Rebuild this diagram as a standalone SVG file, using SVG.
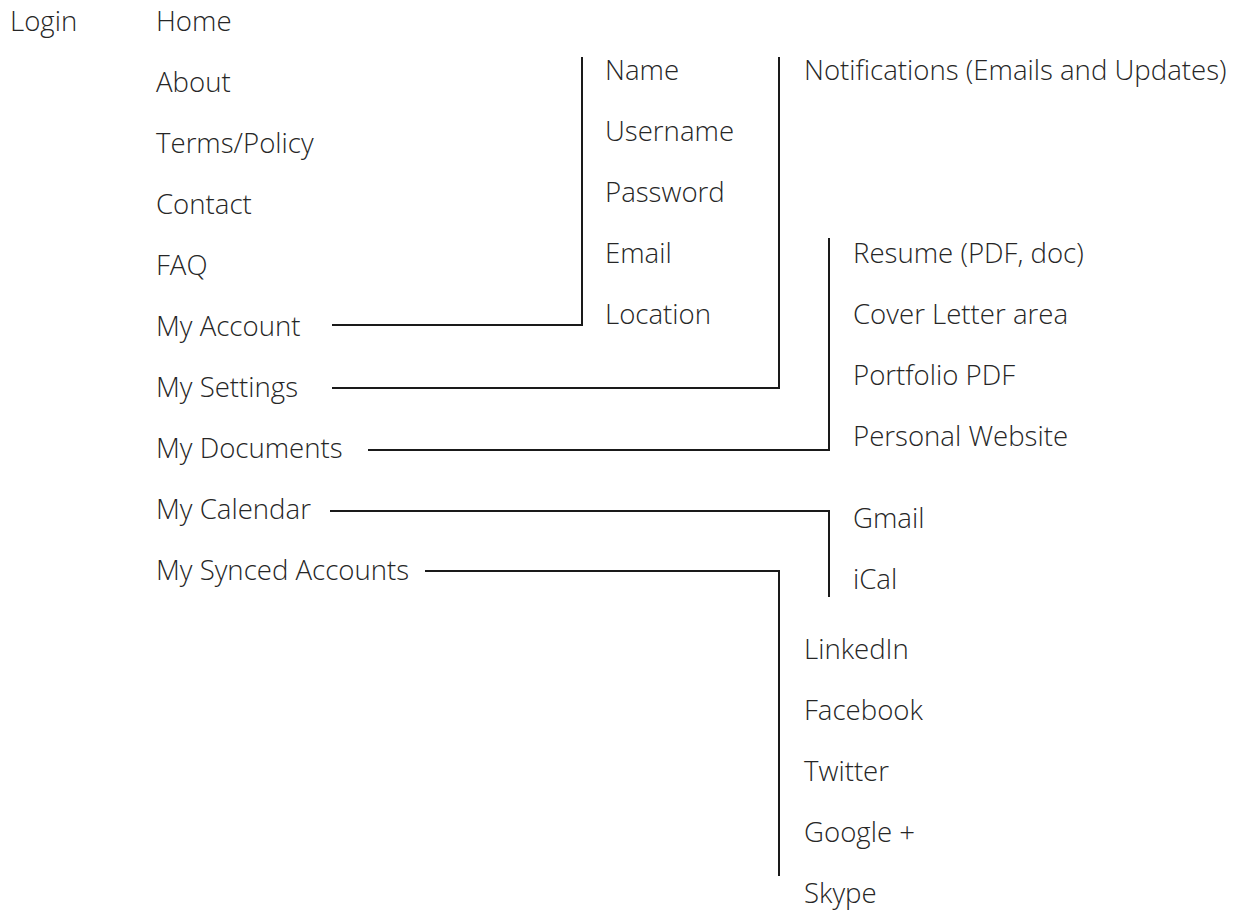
<svg xmlns="http://www.w3.org/2000/svg" width="1243" height="911" viewBox="0 0 1243 911">
<style>
text{font-family:"Open Sans","Liberation Sans",sans-serif;font-weight:300;font-size:27.6px;fill:#262626}
.c{fill:none;stroke:#1a1a1a;stroke-width:2}
</style>
<rect width="1243" height="911" fill="#fff"/>
<g id="connectors">
<polyline class="c" points="332,325 582,325 582,57"/>
<polyline class="c" points="332,388 779,388 779,57"/>
<polyline class="c" points="368,450 829,450 829,238"/>
<polyline class="c" points="330,511 829,511 829,597"/>
<polyline class="c" points="425,571 779,571 779,876"/>
</g>
<g id="login"><text x="10" y="31">Login</text></g>
<g id="main">
<text x="156" y="31">Home</text>
<text x="156" y="92">About</text>
<text x="156" y="153">Terms/Policy</text>
<text x="156" y="214">Contact</text>
<text x="156" y="275">FAQ</text>
<text x="156" y="336">My Account</text>
<text x="156" y="397">My Settings</text>
<text x="156" y="458">My Documents</text>
<text x="156" y="519">My Calendar</text>
<text x="156" y="580">My Synced Accounts</text>
</g>
<g id="account">
<text x="605" y="80">Name</text>
<text x="605" y="141">Username</text>
<text x="605" y="202">Password</text>
<text x="605" y="263">Email</text>
<text x="605" y="324">Location</text>
</g>
<g id="settings"><text x="804" y="80">Notifications (Emails and Updates)</text></g>
<g id="documents">
<text x="853" y="263">Resume (PDF, doc)</text>
<text x="853" y="324">Cover Letter area</text>
<text x="853" y="385">Portfolio PDF</text>
<text x="853" y="446">Personal Website</text>
</g>
<g id="calendar">
<text x="853" y="528">Gmail</text>
<text x="853" y="589">iCal</text>
</g>
<g id="synced">
<text x="804" y="659">LinkedIn</text>
<text x="804" y="720">Facebook</text>
<text x="804" y="781">Twitter</text>
<text x="804" y="842">Google +</text>
<text x="804" y="903">Skype</text>
</g>
</svg>
